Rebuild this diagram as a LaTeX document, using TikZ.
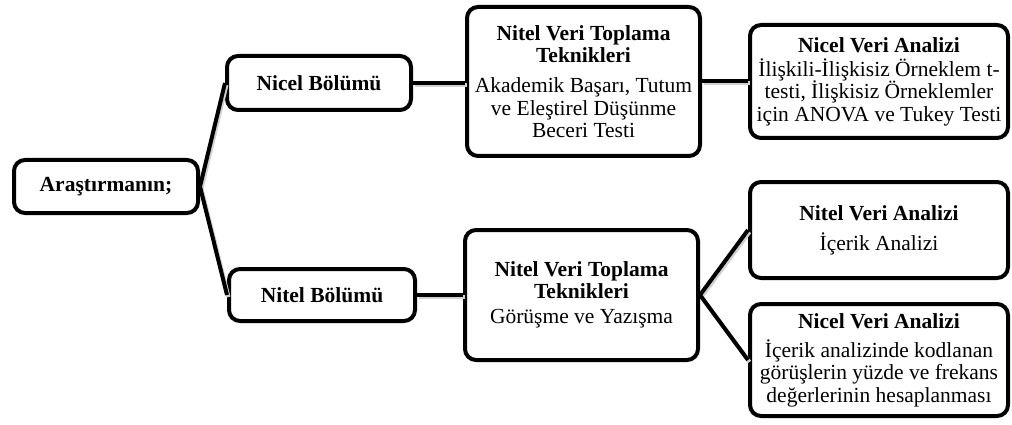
\documentclass[tikz,border=0pt]{standalone}
\usepackage{fontspec}
\setmainfont{Liberation Serif}
\begin{document}
\begin{tikzpicture}[x=1pt,y=-1pt,
  box/.style={draw=black, line width=4pt, rounded corners=11pt, fill=white,
    align=center, inner sep=0pt, font=\fontsize{21.5}{22.5}\selectfont},
  conn/.style={draw=black, line width=4pt,
    preaction={draw=black!18, line width=4pt, transform canvas={shift={(1.5pt,-2pt)}}}}]
\useasboundingbox (0,0) rectangle (1012,425);
\node[box, minimum width=184, minimum height=53] (A) at (106,186.5) {\textbf{Araştırmanın;}};
\node[box, minimum width=184, minimum height=54] (B) at (319,83) {\textbf{Nicel Bölümü}};
\node[box, minimum width=186, minimum height=52] (C) at (322,295) {\textbf{Nitel Bölümü}};
\node[box, minimum width=233, minimum height=149] (D) at (583.5,81.5)
  {\textbf{Nitel Veri Toplama}\\\textbf{Teknikleri}\\[7.5pt]Akademik Başarı, Tutum\\ve Eleştirel Düşünme\\Beceri Testi};
\node[box, minimum width=258, minimum height=113] (E) at (879,81.5)
  {\textbf{Nicel Veri Analizi}\\[1.5pt]İlişkili-İlişkisiz Örneklem t-\\testi, İlişkisiz Örneklemler\\için ANOVA ve Tukey Testi};
\node[box, minimum width=233, minimum height=130] (F) at (581.5,295)
  {\textbf{Nitel Veri Toplama}\\\textbf{Teknikleri}\\[2.5pt]Görüşme ve Yazışma};
\node[box, minimum width=258, minimum height=96] (G) at (879,230)
  {\textbf{Nitel Veri Analizi}\\[7.5pt]İçerik Analizi};
\node[box, minimum width=258, minimum height=112] (H) at (879,360)
  {\textbf{Nicel Veri Analizi}\\[6.5pt]İçerik analizinde kodlanan\\görüşlerin yüzde ve frekans\\değerlerinin hesaplanması};
\draw[conn] (A.east) -- (B.west);
\draw[conn] (A.east) -- (C.west);
\draw[conn] (B.east) -- (D.west |- B.east);
\draw[conn] (D.east) -- (E.west);
\draw[conn] (C.east) -- (F.west |- C.east);
\draw[conn] (F.east) -- (G.west);
\draw[conn] (F.east) -- (H.west);
\end{tikzpicture}
\end{document}
